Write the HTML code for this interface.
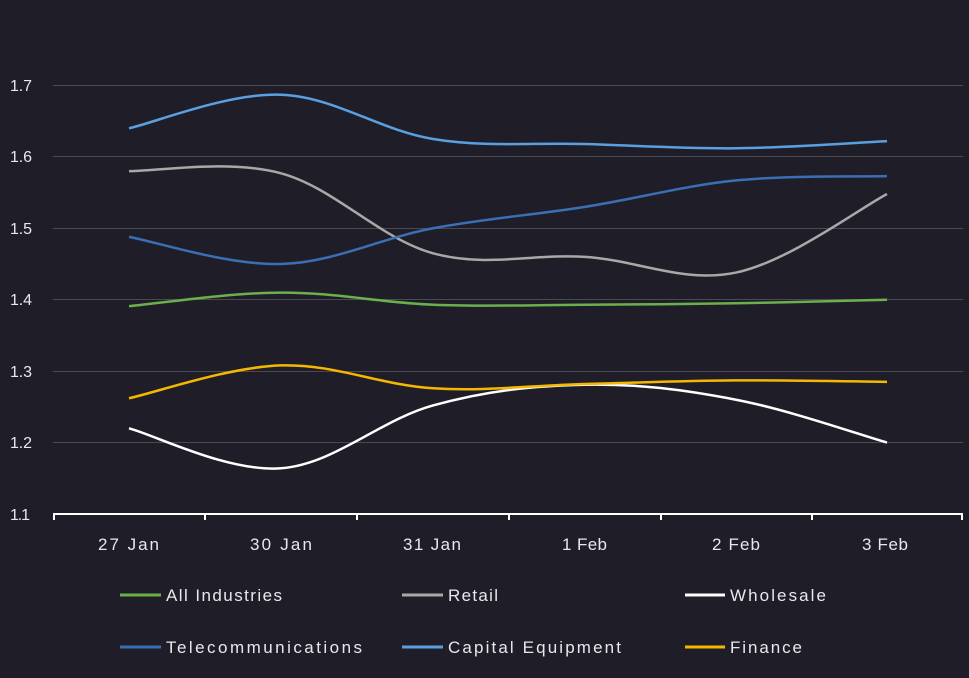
<!DOCTYPE html>
<html><head><meta charset="utf-8"><style>
html,body{margin:0;padding:0;background:#1f1e28;}
svg{display:block;font-family:"Liberation Sans",sans-serif;}
</style></head><body>
<svg id="c" width="969" height="678" viewBox="0 0 969 678" xmlns="http://www.w3.org/2000/svg">
<rect width="969" height="678" fill="#1f1e28"/>
<g stroke="#4a4a52" stroke-width="1">
<line x1="53" x2="963" y1="85.5" y2="85.5"/>
<line x1="53" x2="963" y1="156.5" y2="156.5"/>
<line x1="53" x2="963" y1="228.5" y2="228.5"/>
<line x1="53" x2="963" y1="299.5" y2="299.5"/>
<line x1="53" x2="963" y1="371.5" y2="371.5"/>
<line x1="53" x2="963" y1="442.5" y2="442.5"/>
</g>
<g fill="#e8e8ec" font-size="16">
<text x="10" y="91" textLength="22">1.7</text><text x="10" y="162" textLength="22">1.6</text><text x="10" y="234" textLength="22">1.5</text>
<text x="10" y="305" textLength="22">1.4</text><text x="10" y="377" textLength="22">1.3</text><text x="10" y="448" textLength="22">1.2</text><text x="10" y="520" textLength="20">1.1</text>
</g>
<g stroke="#fff" stroke-width="2">
<line x1="53" x2="963" y1="514" y2="514"/>
<line x1="54" x2="54" y1="514" y2="520"/><line x1="205" x2="205" y1="514" y2="520"/>
<line x1="357" x2="357" y1="514" y2="520"/><line x1="509" x2="509" y1="514" y2="520"/>
<line x1="661" x2="661" y1="514" y2="520"/><line x1="812" x2="812" y1="514" y2="520"/>
<line x1="962" x2="962" y1="514" y2="520"/>
</g>
<g fill="#e8e8ec" font-size="17">
<text x="98" y="550" textLength="61">27 Jan</text><text x="250" y="550" textLength="62">30 Jan</text><text x="403" y="550" textLength="58">31 Jan</text>
<text x="562" y="550" textLength="45">1 Feb</text><text x="712" y="550" textLength="48">2 Feb</text><text x="862" y="550" textLength="46">3 Feb</text>
</g>
<g id="series" fill="none" stroke-width="2.5"></g>
<g font-size="17" fill="#e8e8ec" stroke-width="3">
<line x1="120" x2="161" y1="595" y2="595" stroke="#6ab04c"/><text x="166" y="601" textLength="116">All Industries</text>
<line x1="402" x2="443" y1="595" y2="595" stroke="#a8a8a8"/><text x="448" y="601" textLength="50">Retail</text>
<line x1="685" x2="725" y1="595" y2="595" stroke="#ffffff"/><text x="730" y="601" textLength="96">Wholesale</text>
<line x1="120" x2="161" y1="647" y2="647" stroke="#3a6fb5"/><text x="166" y="653" textLength="196">Telecommunications</text>
<line x1="402" x2="443" y1="647" y2="647" stroke="#5aa0e0"/><text x="448" y="653" textLength="173">Capital Equipment</text>
<line x1="685" x2="725" y1="647" y2="647" stroke="#f5b800"/><text x="730" y="653" textLength="72">Finance</text>
</g>
</svg>
<script>
var xs=[129,281,433,585,736,887];
function Y(v){return 514-(v-1.1)*714.3;}
var S=[
["#6ab04c",[1.391,1.41,1.393,1.393,1.395,1.40]],
["#a8a8a8",[1.58,1.577,1.465,1.46,1.438,1.548]],
["#ffffff",[1.22,1.164,1.252,1.281,1.26,1.20]],
["#3a6fb5",[1.488,1.45,1.50,1.53,1.567,1.573]],
["#5aa0e0",[1.64,1.687,1.625,1.618,1.612,1.622]],
["#f5b800",[1.262,1.308,1.276,1.282,1.287,1.285]]];
var g=document.getElementById("series");
S.forEach(function(s){
 var p=xs.map(function(x,i){return [x,Y(s[1][i])];});
 var d="M"+p[0][0]+","+p[0][1];
 var t=0.35;
 for(var i=0;i<p.length-1;i++){
  var p0=p[i-1]||p[i],p1=p[i],p2=p[i+1],p3=p[i+2]||p[i+1];
  var c1x=p1[0]+(p2[0]-p0[0])*t/2, c1y=p1[1]+(p2[1]-p0[1])*t/2;
  var c2x=p2[0]-(p3[0]-p1[0])*t/2, c2y=p2[1]-(p3[1]-p1[1])*t/2;
  d+=" C"+c1x+","+c1y+" "+c2x+","+c2y+" "+p2[0]+","+p2[1];
 }
 var e=document.createElementNS("http://www.w3.org/2000/svg","path");
 e.setAttribute("d",d);e.setAttribute("stroke",s[0]);g.appendChild(e);
});
</script>
</body></html>
